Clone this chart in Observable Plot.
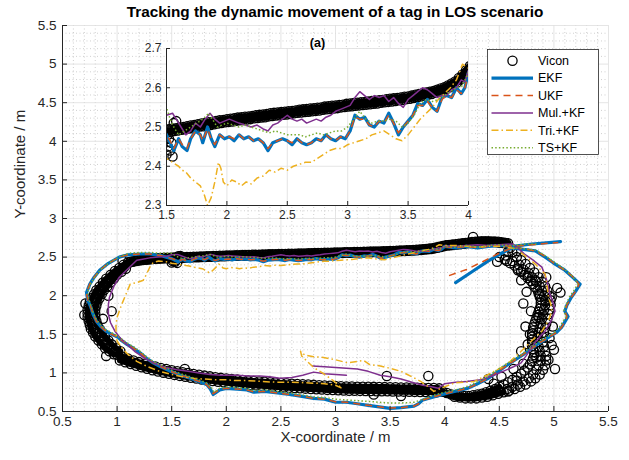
<!DOCTYPE html>
<html><head><meta charset="utf-8">
<script src="https://cdn.jsdelivr.net/npm/d3@7"></script>
<script src="https://cdn.jsdelivr.net/npm/@observablehq/plot@0.6"></script>
<style>
body{margin:0;background:#fff;font-family:"Liberation Sans",Arial,Helvetica,sans-serif;}
#wrap{position:relative;width:629px;height:460px;overflow:hidden;background:#fff;}
#wrap svg{position:absolute;}
#title{position:absolute;left:35px;width:600px;top:3px;text-align:center;font-weight:bold;font-size:15.3px;color:#000;}
</style></head><body>
<div id="wrap"><div id="title">Tracking the dynamic movement of a tag in LOS scenario</div></div>
<script>
// ---------------- data ----------------
const title = "Tracking the dynamic movement of a tag in LOS scenario";
const insetTitle = "(a)";
const xLabel = "X-coordinate / m";
const yLabel = "Y-coordinate / m";
const xTicks = [0.5,1,1.5,2,2.5,3,3.5,4,4.5,5,5.5];
const yTicks = [0.5,1,1.5,2,2.5,3,3.5,4,4.5,5,5.5];
const insetXTicks = [1.5,2,2.5,3,3.5,4];
const insetYTicks = [2.3,2.4,2.5,2.6,2.7];
const seriesNames = ["Vicon","EKF","UKF","Mul.+KF","Tri.+KF","TS+KF"];

const viconTopA = [[1.10,2.433],[1.13,2.443],[1.16,2.451],[1.19,2.460],[1.22,2.466],[1.25,2.471],[1.28,2.475],[1.31,2.479],[1.34,2.482],[1.37,2.485],[1.40,2.488],[1.43,2.490],[1.46,2.491],[1.49,2.493],[1.52,2.494],[1.55,2.496],[1.58,2.497],[1.61,2.499],[1.64,2.500],[1.67,2.502],[1.70,2.504],[1.73,2.505],[1.76,2.507],[1.79,2.509],[1.82,2.510],[1.85,2.512],[1.88,2.513],[1.91,2.515],[1.94,2.517],[1.97,2.518],[2.00,2.520],[2.03,2.521],[2.06,2.522],[2.09,2.524],[2.12,2.525],[2.15,2.526],[2.18,2.527],[2.21,2.528],[2.24,2.530],[2.27,2.531],[2.30,2.532],[2.33,2.533],[2.36,2.535],[2.39,2.536],[2.42,2.537],[2.45,2.538],[2.48,2.539],[2.51,2.540],[2.54,2.541],[2.57,2.542],[2.60,2.544],[2.63,2.545],[2.66,2.546],[2.69,2.547],[2.72,2.548],[2.75,2.549],[2.78,2.550],[2.81,2.552],[2.84,2.553],[2.87,2.554],[2.90,2.555],[2.93,2.556],[2.96,2.557],[2.99,2.559],[3.02,2.560],[3.05,2.561],[3.08,2.562],[3.11,2.563],[3.14,2.564],[3.17,2.565],[3.20,2.566],[3.23,2.567],[3.26,2.568],[3.29,2.569],[3.32,2.571],[3.35,2.572],[3.38,2.573],[3.41,2.574],[3.44,2.575],[3.47,2.577],[3.50,2.578],[3.53,2.580],[3.56,2.582],[3.59,2.584],[3.62,2.586],[3.65,2.588],[3.68,2.590],[3.71,2.592],[3.74,2.595],[3.77,2.598],[3.80,2.601],[3.83,2.606],[3.86,2.611],[3.89,2.616],[3.92,2.625],[3.95,2.634],[3.98,2.645],[4.01,2.655],[4.04,2.658],[4.07,2.662],[4.10,2.668],[4.13,2.673],[4.16,2.678],[4.19,2.684],[4.22,2.690],[4.25,2.695],[4.28,2.700],[4.31,2.703],[4.34,2.704],[4.37,2.705],[4.40,2.704],[4.43,2.703],[4.46,2.701],[4.49,2.698],[4.52,2.693],[4.55,2.687],[4.58,2.680]];
const viconTopB = [[1.115,2.431],[1.145,2.440],[1.175,2.449],[1.205,2.456],[1.235,2.462],[1.265,2.466],[1.295,2.470],[1.325,2.474],[1.355,2.477],[1.385,2.480],[1.415,2.482],[1.445,2.484],[1.475,2.485],[1.505,2.487],[1.535,2.488],[1.565,2.490],[1.595,2.491],[1.625,2.493],[1.655,2.494],[1.685,2.496],[1.715,2.497],[1.745,2.499],[1.775,2.501],[1.805,2.502],[1.835,2.504],[1.865,2.505],[1.895,2.507],[1.925,2.509],[1.955,2.510],[1.985,2.512],[2.015,2.513],[2.045,2.514],[2.075,2.516],[2.105,2.517],[2.135,2.518],[2.165,2.519],[2.195,2.520],[2.225,2.522],[2.255,2.523],[2.285,2.524],[2.315,2.525],[2.345,2.527],[2.375,2.528],[2.405,2.529],[2.435,2.530],[2.465,2.531],[2.495,2.532],[2.525,2.533],[2.555,2.535],[2.585,2.536],[2.615,2.537],[2.645,2.538],[2.675,2.539],[2.705,2.540],[2.735,2.541],[2.765,2.542],[2.795,2.544],[2.825,2.545],[2.855,2.546],[2.885,2.547],[2.915,2.548],[2.945,2.550],[2.975,2.551],[3.005,2.552],[3.035,2.553],[3.065,2.554],[3.095,2.555],[3.125,2.556],[3.155,2.557],[3.185,2.558],[3.215,2.559],[3.245,2.560],[3.275,2.562],[3.305,2.563],[3.335,2.564],[3.365,2.565],[3.395,2.566],[3.425,2.568],[3.455,2.569],[3.485,2.571],[3.515,2.572],[3.545,2.574],[3.575,2.576],[3.605,2.578],[3.635,2.580],[3.665,2.582],[3.695,2.584],[3.725,2.587],[3.755,2.590],[3.785,2.593],[3.815,2.597],[3.845,2.601],[3.875,2.606],[3.905,2.613],[3.935,2.621],[3.965,2.631],[3.995,2.642],[4.025,2.650],[4.055,2.654],[4.085,2.658],[4.115,2.663],[4.145,2.668],[4.175,2.673],[4.205,2.679],[4.235,2.684],[4.265,2.689],[4.295,2.693],[4.325,2.696],[4.355,2.697],[4.385,2.697],[4.415,2.696],[4.445,2.694],[4.475,2.691],[4.505,2.687],[4.535,2.682],[4.565,2.676]];
const viconExtra = [[1.50,2.43],[1.51,2.45],[1.52,2.47],[1.53,2.44],[1.54,2.46],[1.56,2.51],[1.58,2.515],[1.51,2.48],[1.55,2.425],[4.26,2.76],[4.50,2.50],[4.48,2.44],[4.67,2.33],[4.76,2.26],[4.83,2.20],[4.87,2.02],[5.06,2.04],[5.03,2.10],[4.79,1.80],[4.86,1.72],[4.76,1.37],[4.95,1.17],[4.70,1.28],[4.58,0.76],[4.99,1.60],[5.00,1.30],[4.74,1.60],[4.72,1.90],[4.96,1.45],[4.63,1.05],[4.40,0.92],[3.47,0.96],[3.85,0.96],[3.60,0.70],[3.35,0.72],[2.20,0.83],[1.62,1.05],[0.90,1.22],[0.87,1.70],[0.95,1.80],[0.70,1.75],[0.71,1.90],[1.05,2.45],[0.92,2.00],[4.62,2.56],[4.66,2.58],[4.70,2.20],[4.93,2.24],[4.98,1.98],[4.78,1.50],[4.84,1.20],[4.72,1.12],[5.01,1.05],[4.66,0.90],[4.52,0.95],[4.45,0.86],[4.98,1.36],[4.75,2.05]];
const viconRightA = [[4.60,2.62],[4.58,2.57],[4.56,2.52],[4.55,2.47],[4.57,2.45],[4.60,2.42],[4.64,2.39],[4.67,2.35],[4.70,2.31],[4.73,2.27],[4.76,2.23],[4.79,2.19],[4.81,2.15],[4.83,2.11],[4.85,2.07],[4.86,2.03],[4.87,1.99],[4.88,1.95],[4.88,1.91],[4.88,1.87],[4.87,1.83],[4.86,1.79],[4.85,1.75],[4.84,1.71],[4.83,1.67],[4.82,1.63],[4.81,1.59],[4.81,1.55],[4.80,1.51],[4.80,1.47],[4.80,1.43],[4.80,1.39],[4.80,1.35],[4.81,1.31],[4.82,1.27],[4.82,1.23],[4.81,1.19],[4.80,1.15],[4.78,1.11],[4.76,1.07],[4.73,1.03],[4.70,0.99],[4.66,0.95],[4.62,0.91],[4.58,0.88],[4.54,0.85]];
const viconCornerA = [[4.50,0.82],[4.46,0.79],[4.42,0.77],[4.38,0.75],[4.34,0.73],[4.30,0.72],[4.26,0.71],[4.22,0.70],[4.18,0.70],[4.14,0.70],[4.10,0.71],[4.06,0.72],[4.02,0.74],[3.98,0.76],[3.94,0.77]];
const viconRightB = [[4.66,2.50],[4.70,2.46],[4.74,2.41],[4.78,2.36],[4.82,2.30],[4.86,2.24],[4.89,2.18],[4.92,2.12],[4.94,2.06],[4.96,2.00],[4.97,1.94],[4.97,1.88],[4.96,1.82],[4.95,1.76],[4.94,1.70],[4.93,1.64],[4.92,1.58],[4.91,1.52],[4.90,1.46],[4.90,1.40],[4.91,1.34],[4.92,1.28],[4.93,1.22],[4.93,1.16],[4.92,1.10],[4.90,1.04],[4.87,0.98],[4.83,0.93],[4.79,0.89],[4.74,0.85],[4.69,0.82],[4.64,0.79],[4.59,0.77]];
const viconCornerB = [[4.54,0.75],[4.49,0.73],[4.44,0.71],[4.39,0.69],[4.34,0.68],[4.29,0.67],[4.24,0.67],[4.19,0.67],[4.14,0.68],[4.09,0.69]];
const viconRightC = [[4.62,2.45],[4.68,2.40],[4.72,2.34],[4.77,2.29],[4.80,2.24],[4.84,2.18],[4.87,2.12],[4.89,2.06],[4.91,2.00],[4.92,1.94],[4.92,1.88],[4.91,1.82],[4.90,1.76],[4.89,1.70],[4.88,1.64],[4.87,1.58],[4.86,1.52],[4.85,1.46],[4.85,1.40],[4.86,1.34],[4.87,1.28],[4.88,1.22],[4.88,1.16],[4.86,1.10],[4.84,1.04],[4.81,0.98],[4.77,0.93],[4.72,0.89],[4.67,0.85],[4.62,0.82],[4.57,0.79]];
const viconBottomA = [[3.95,0.80],[3.90,0.805],[3.85,0.806],[3.80,0.807],[3.75,0.809],[3.70,0.81],[3.65,0.811],[3.60,0.812],[3.55,0.814],[3.50,0.815],[3.45,0.816],[3.40,0.817],[3.35,0.819],[3.30,0.82],[3.25,0.821],[3.20,0.822],[3.15,0.824],[3.10,0.825],[3.05,0.828],[3.00,0.83],[2.95,0.834],[2.90,0.837],[2.85,0.841],[2.80,0.845],[2.75,0.849],[2.70,0.853],[2.65,0.857],[2.60,0.861],[2.55,0.865],[2.50,0.87],[2.45,0.875],[2.40,0.88],[2.35,0.885],[2.30,0.89],[2.25,0.896],[2.20,0.902],[2.15,0.909],[2.10,0.915],[2.05,0.922],[2.00,0.928],[1.95,0.936],[1.90,0.945],[1.85,0.955],[1.80,0.965],[1.75,0.976],[1.70,0.987],[1.65,0.998],[1.60,1.01],[1.55,1.022],[1.50,1.035],[1.45,1.05],[1.40,1.065],[1.35,1.082],[1.30,1.10],[1.25,1.12],[1.20,1.14],[1.15,1.162],[1.10,1.185],[1.05,1.21],[1.00,1.235]];
const viconBottomB = [[3.925,0.75],[3.875,0.751],[3.825,0.752],[3.775,0.753],[3.725,0.754],[3.675,0.756],[3.625,0.757],[3.575,0.758],[3.525,0.759],[3.475,0.761],[3.425,0.762],[3.375,0.763],[3.325,0.764],[3.275,0.766],[3.225,0.767],[3.175,0.768],[3.125,0.769],[3.075,0.772],[3.025,0.774],[2.975,0.777],[2.925,0.78],[2.875,0.784],[2.825,0.788],[2.775,0.792],[2.725,0.796],[2.675,0.80],[2.625,0.804],[2.575,0.808],[2.525,0.812],[2.475,0.817],[2.425,0.822],[2.375,0.827],[2.325,0.832],[2.275,0.838],[2.225,0.844],[2.175,0.85],[2.125,0.856],[2.075,0.863],[2.025,0.87],[1.975,0.878],[1.925,0.886],[1.875,0.895],[1.825,0.905],[1.775,0.915],[1.725,0.926],[1.675,0.937],[1.625,0.949],[1.575,0.961],[1.525,0.974],[1.475,0.988],[1.425,1.003],[1.375,1.018],[1.325,1.035],[1.275,1.053],[1.225,1.072],[1.175,1.093],[1.125,1.115],[1.075,1.138],[1.025,1.162]];
const viconLeftA = [[0.97,1.24],[0.93,1.28],[0.89,1.32],[0.86,1.37],[0.83,1.42],[0.80,1.47],[0.78,1.52],[0.76,1.57],[0.75,1.62],[0.74,1.67],[0.73,1.72],[0.73,1.77],[0.73,1.82],[0.74,1.87],[0.75,1.92],[0.77,1.97],[0.79,2.02],[0.81,2.07],[0.84,2.12],[0.87,2.17],[0.90,2.22],[0.94,2.27],[0.98,2.32],[1.02,2.36],[1.06,2.40]];
const viconLeftB = [[1.03,1.28],[0.99,1.32],[0.95,1.37],[0.92,1.42],[0.89,1.47],[0.86,1.52],[0.84,1.57],[0.82,1.62],[0.81,1.67],[0.80,1.72],[0.80,1.77],[0.80,1.82],[0.81,1.87],[0.82,1.92],[0.84,1.97],[0.86,2.02],[0.88,2.07],[0.91,2.12],[0.94,2.17],[0.97,2.22],[1.00,2.27],[1.04,2.31],[1.08,2.35]];

const ekf = [[4.10,2.17],[4.25,2.31],[4.40,2.45],[4.52,2.55],[4.62,2.62],[4.72,2.60],[4.83,2.58],[4.92,2.50],[5.00,2.42],[5.10,2.33],[5.17,2.24],[5.24,2.15],[5.20,2.06],[5.16,1.98],[5.12,1.88],[5.10,1.80],[5.13,1.73],[5.10,1.66],[5.07,1.59],[5.02,1.52],[4.95,1.46],[4.86,1.38],[4.76,1.28],[4.68,1.20],[4.58,1.11],[4.50,1.03],[4.40,0.93],[4.30,0.86],[4.21,0.80],[4.12,0.77],[4.03,0.74],[3.90,0.69],[3.80,0.65],[3.76,0.60],[3.72,0.57],[3.60,0.55],[3.50,0.54],[3.40,0.56],[3.30,0.58],[3.20,0.60],[3.10,0.62],[3.00,0.62],[2.90,0.66],[2.80,0.67],[2.68,0.70],[2.58,0.72],[2.47,0.74],[2.35,0.76],[2.25,0.75],[2.19,0.78],[2.10,0.79],[2.00,0.80],[1.94,0.78],[1.88,0.72],[1.85,0.80],[1.82,0.85],[1.75,0.89],[1.67,0.93],[1.58,0.97],[1.49,1.02],[1.40,1.08],[1.33,1.13],[1.27,1.19],[1.21,1.26],[1.15,1.32],[1.09,1.37],[1.04,1.42],[1.01,1.46],[0.95,1.50],[0.90,1.54],[0.85,1.60],[0.81,1.67],[0.78,1.76],[0.76,1.85],[0.73,1.95],[0.72,2.04],[0.75,2.15],[0.79,2.24],[0.84,2.33],[0.92,2.42],[1.02,2.50],[1.10,2.53],[1.21,2.54],[1.30,2.54],[1.40,2.52],[1.45,2.50],[1.50,2.48],[1.53,2.46],[1.56,2.44],[1.60,2.47],[1.63,2.45],[1.67,2.44],[1.70,2.47],[1.74,2.49],[1.78,2.48],[1.80,2.46],[1.84,2.50],[1.87,2.47],[1.90,2.45],[1.94,2.48],[1.98,2.47],[2.02,2.475],[2.06,2.465],[2.10,2.48],[2.14,2.47],[2.18,2.475],[2.22,2.465],[2.26,2.47],[2.30,2.46],[2.34,2.44],[2.38,2.46],[2.42,2.465],[2.46,2.47],[2.50,2.465],[2.54,2.455],[2.58,2.47],[2.62,2.46],[2.66,2.455],[2.70,2.46],[2.74,2.47],[2.78,2.465],[2.82,2.48],[2.86,2.47],[2.90,2.465],[2.94,2.475],[2.98,2.47],[3.02,2.49],[3.06,2.53],[3.10,2.52],[3.14,2.525],[3.18,2.505],[3.22,2.50],[3.26,2.515],[3.30,2.51],[3.34,2.535],[3.38,2.51],[3.42,2.48],[3.46,2.50],[3.50,2.515],[3.54,2.53],[3.58,2.56],[3.62,2.555],[3.66,2.57],[3.70,2.55],[3.74,2.54],[3.78,2.575],[3.82,2.58],[3.86,2.575],[3.90,2.60],[3.94,2.585],[3.97,2.60],[4.00,2.64],[4.10,2.62],[4.20,2.64],[4.30,2.62],[4.40,2.64],[4.50,2.65],[4.62,2.64],[4.80,2.67],[5.06,2.70]];
const ukf = [[4.04,2.26],[4.20,2.34],[4.36,2.45],[4.50,2.55],[4.62,2.62],[4.72,2.61],[4.83,2.58],[4.92,2.51],[5.00,2.42],[5.10,2.33],[5.17,2.25],[5.23,2.15],[5.20,2.06],[5.16,1.98],[5.12,1.88],[5.10,1.80],[5.12,1.73],[5.10,1.66],[5.07,1.59],[5.02,1.52],[4.95,1.46],[4.86,1.38],[4.76,1.28],[4.68,1.20],[4.58,1.11],[4.50,1.03],[4.40,0.93],[4.30,0.86],[4.21,0.80],[4.12,0.77],[4.03,0.74],[3.90,0.69],[3.80,0.65],[3.76,0.60],[3.72,0.57],[3.60,0.55],[3.50,0.545],[3.40,0.56],[3.30,0.58],[3.20,0.60],[3.10,0.62],[3.00,0.625],[2.90,0.66],[2.80,0.67],[2.68,0.70],[2.58,0.72],[2.47,0.74],[2.35,0.76],[2.25,0.755],[2.19,0.78],[2.10,0.79],[2.00,0.80],[1.94,0.785],[1.88,0.73],[1.85,0.80],[1.82,0.85],[1.75,0.89],[1.67,0.93],[1.58,0.97],[1.49,1.02],[1.40,1.08],[1.33,1.13],[1.27,1.19],[1.21,1.26],[1.15,1.32],[1.09,1.37],[1.04,1.42],[1.01,1.46],[0.95,1.50],[0.90,1.54],[0.85,1.60],[0.81,1.67],[0.78,1.76],[0.76,1.85],[0.73,1.95],[0.72,2.04],[0.75,2.15],[0.79,2.24],[0.84,2.33],[0.92,2.42],[1.02,2.50],[1.10,2.53],[1.21,2.54],[1.30,2.54],[1.40,2.52],[1.45,2.50],[1.50,2.48],[1.53,2.465],[1.56,2.445],[1.60,2.47],[1.63,2.455],[1.67,2.445],[1.70,2.47],[1.74,2.49],[1.78,2.48],[1.80,2.465],[1.84,2.495],[1.87,2.47],[1.90,2.455],[1.94,2.48],[1.98,2.47],[2.02,2.475],[2.06,2.47],[2.10,2.48],[2.14,2.47],[2.18,2.475],[2.22,2.465],[2.26,2.47],[2.30,2.46],[2.34,2.445],[2.38,2.46],[2.42,2.465],[2.46,2.47],[2.50,2.465],[2.54,2.46],[2.58,2.47],[2.62,2.46],[2.66,2.455],[2.70,2.46],[2.74,2.47],[2.78,2.465],[2.82,2.48],[2.86,2.47],[2.90,2.465],[2.94,2.475],[2.98,2.47],[3.02,2.49],[3.06,2.525],[3.10,2.52],[3.14,2.52],[3.18,2.505],[3.22,2.50],[3.26,2.515],[3.30,2.51],[3.34,2.53],[3.38,2.51],[3.42,2.485],[3.46,2.50],[3.50,2.515],[3.54,2.53],[3.58,2.555],[3.62,2.555],[3.66,2.565],[3.70,2.55],[3.74,2.54],[3.78,2.57],[3.82,2.58],[3.86,2.575],[3.90,2.595],[3.94,2.585],[3.97,2.60],[4.00,2.635],[4.10,2.62],[4.20,2.64],[4.30,2.62],[4.40,2.64],[4.50,2.65],[4.62,2.64],[4.80,2.66],[5.04,2.69]];
const mul = [[2.79,1.09],[2.90,1.08],[3.00,1.07],[3.10,1.06],[3.20,1.05],[3.30,1.02],[3.41,0.97],[3.50,0.95],[3.60,0.92],[3.70,0.88],[3.80,0.84],[3.88,0.82],[3.94,0.80],[4.00,0.86],[4.10,0.88],[4.20,0.89],[4.33,0.91],[4.45,0.97],[4.55,1.03],[4.63,1.08],[4.70,1.13],[4.76,1.25],[4.82,1.38],[4.88,1.48],[4.92,1.54],[4.97,1.66],[5.01,1.80],[4.99,1.92],[4.96,2.03],[4.95,2.11],[4.93,2.22],[4.89,2.37],[4.82,2.45],[4.73,2.54],[4.67,2.62],[4.62,2.67],[4.50,2.66],[4.40,2.65],[4.30,2.66],[4.20,2.65],[4.10,2.64],[4.00,2.645],[3.97,2.615],[3.94,2.62],[3.90,2.60],[3.86,2.595],[3.82,2.58],[3.78,2.58],[3.74,2.575],[3.70,2.585],[3.66,2.595],[3.62,2.60],[3.58,2.59],[3.54,2.58],[3.50,2.57],[3.46,2.55],[3.42,2.56],[3.38,2.575],[3.34,2.565],[3.30,2.58],[3.26,2.575],[3.22,2.58],[3.18,2.57],[3.14,2.58],[3.10,2.59],[3.06,2.575],[3.02,2.555],[2.98,2.55],[2.94,2.545],[2.90,2.54],[2.86,2.53],[2.82,2.525],[2.78,2.515],[2.74,2.52],[2.70,2.515],[2.66,2.51],[2.62,2.52],[2.58,2.515],[2.54,2.52],[2.50,2.53],[2.46,2.52],[2.42,2.51],[2.38,2.505],[2.34,2.49],[2.30,2.495],[2.25,2.505],[2.20,2.50],[2.15,2.505],[2.10,2.51],[2.06,2.515],[2.02,2.52],[1.98,2.515],[1.94,2.51],[1.90,2.52],[1.86,2.535],[1.82,2.52],[1.78,2.50],[1.74,2.51],[1.70,2.49],[1.66,2.48],[1.62,2.50],[1.58,2.52],[1.55,2.535],[1.50,2.53],[1.45,2.51],[1.38,2.50],[1.30,2.49],[1.22,2.47],[1.18,2.46],[1.10,2.35],[1.05,2.28],[1.02,2.24],[0.97,2.12],[0.93,1.98],[0.92,1.88],[0.92,1.76],[0.94,1.65],[0.98,1.54],[1.03,1.45],[1.09,1.37],[1.16,1.28],[1.24,1.20],[1.35,1.12],[1.45,1.07],[1.55,1.04],[1.65,1.02],[1.75,1.00],[1.85,0.98],[1.95,0.97],[2.10,0.97],[2.20,0.96],[2.31,0.96],[2.40,0.95],[2.49,0.93],[2.60,0.94],[2.70,0.97],[2.80,1.01],[2.90,0.99],[3.00,0.98],[3.10,0.97]];
const tri = [[4.64,2.61],[4.50,2.64],[4.40,2.64],[4.30,2.63],[4.20,2.64],[4.10,2.65],[4.00,2.65],[3.95,2.66],[3.90,2.62],[3.85,2.60],[3.80,2.585],[3.75,2.57],[3.70,2.55],[3.65,2.535],[3.60,2.52],[3.55,2.50],[3.50,2.48],[3.45,2.465],[3.40,2.47],[3.35,2.48],[3.30,2.49],[3.25,2.485],[3.20,2.48],[3.15,2.47],[3.10,2.465],[3.05,2.46],[3.00,2.455],[2.95,2.445],[2.90,2.445],[2.85,2.44],[2.80,2.43],[2.75,2.42],[2.70,2.41],[2.65,2.41],[2.60,2.405],[2.55,2.40],[2.50,2.39],[2.45,2.395],[2.40,2.385],[2.35,2.39],[2.30,2.375],[2.25,2.37],[2.20,2.355],[2.16,2.36],[2.12,2.35],[2.08,2.36],[2.04,2.365],[2.00,2.35],[1.97,2.36],[1.95,2.395],[1.93,2.41],[1.90,2.36],[1.87,2.32],[1.84,2.30],[1.81,2.33],[1.78,2.35],[1.74,2.36],[1.70,2.37],[1.66,2.385],[1.63,2.39],[1.60,2.40],[1.55,2.41],[1.50,2.42],[1.45,2.44],[1.38,2.45],[1.33,2.43],[1.30,2.37],[1.27,2.28],[1.24,2.20],[1.18,2.17],[1.12,2.15],[1.09,2.05],[1.07,1.98],[1.04,1.88],[1.02,1.80],[1.00,1.72],[0.99,1.63],[0.99,1.52],[1.00,1.41],[1.04,1.33],[1.10,1.24],[1.18,1.15],[1.28,1.08],[1.39,1.02],[1.50,0.98],[1.60,0.95],[1.70,0.93],[1.80,0.92],[1.90,0.91],[2.00,0.91],[2.10,0.90],[2.20,0.90],[2.31,0.89],[2.45,0.88],[2.60,0.88],[2.76,0.87],[2.90,0.86],[3.00,0.84],[3.06,0.80],[2.98,0.90],[2.88,1.00],[2.80,1.07],[2.74,1.15],[2.69,1.22],[2.68,1.28],[2.72,1.23],[2.80,1.21],[2.89,1.20],[3.00,1.17],[3.11,1.13],[3.20,1.15],[3.26,1.16],[3.31,1.11],[3.41,1.09],[3.50,1.06],[3.60,1.02],[3.70,0.95],[3.78,0.89],[3.85,0.82],[3.90,0.76],[4.00,0.82],[4.09,0.87],[4.18,0.88],[4.27,0.89],[4.40,0.98],[4.52,1.07],[4.60,1.15],[4.70,1.28],[4.80,1.42],[4.89,1.54],[4.95,1.68],[4.98,1.80],[4.97,1.90],[4.95,1.98],[4.94,2.10],[4.92,2.28],[4.87,2.35],[4.83,2.41],[4.75,2.50],[4.68,2.58]];
const ts = [[4.62,2.62],[4.72,2.61],[4.84,2.59],[4.93,2.51],[5.01,2.43],[5.10,2.34],[5.17,2.25],[5.22,2.16],[5.18,2.06],[5.14,1.98],[5.11,1.88],[5.09,1.80],[5.11,1.73],[5.08,1.66],[5.05,1.59],[5.00,1.52],[4.93,1.46],[4.84,1.38],[4.75,1.29],[4.66,1.20],[4.57,1.12],[4.48,1.04],[4.39,0.95],[4.29,0.88],[4.20,0.82],[4.10,0.78],[4.00,0.75],[3.90,0.71],[3.80,0.66],[3.72,0.62],[3.60,0.61],[3.50,0.61],[3.40,0.62],[3.30,0.63],[3.20,0.64],[3.10,0.65],[3.00,0.66],[2.90,0.68],[2.80,0.69],[2.68,0.72],[2.58,0.74],[2.47,0.76],[2.35,0.78],[2.25,0.77],[2.19,0.80],[2.10,0.81],[2.00,0.82],[1.94,0.80],[1.89,0.75],[1.86,0.82],[1.82,0.87],[1.75,0.91],[1.67,0.95],[1.58,0.99],[1.49,1.04],[1.40,1.10],[1.33,1.15],[1.27,1.21],[1.21,1.28],[1.15,1.34],[1.09,1.39],[1.04,1.44],[1.00,1.48],[0.95,1.52],[0.90,1.56],[0.85,1.62],[0.81,1.69],[0.78,1.78],[0.76,1.87],[0.74,1.96],[0.73,2.05],[0.76,2.16],[0.80,2.25],[0.85,2.34],[0.93,2.43],[1.03,2.51],[1.11,2.55],[1.21,2.56],[1.30,2.56],[1.40,2.55],[1.45,2.55],[1.50,2.55],[1.53,2.52],[1.56,2.50],[1.60,2.48],[1.65,2.49],[1.70,2.50],[1.75,2.51],[1.80,2.52],[1.85,2.535],[1.88,2.52],[1.92,2.50],[1.96,2.505],[2.00,2.51],[2.05,2.505],[2.10,2.50],[2.15,2.505],[2.20,2.50],[2.25,2.495],[2.30,2.49],[2.35,2.485],[2.40,2.49],[2.45,2.485],[2.50,2.48],[2.55,2.48],[2.60,2.48],[2.65,2.475],[2.70,2.48],[2.75,2.485],[2.80,2.48],[2.85,2.485],[2.90,2.49],[2.95,2.49],[3.00,2.50],[3.05,2.52],[3.10,2.54],[3.15,2.52],[3.20,2.51],[3.25,2.515],[3.30,2.515],[3.35,2.52],[3.40,2.515],[3.45,2.50],[3.50,2.51],[3.55,2.53],[3.60,2.56],[3.65,2.57],[3.70,2.565],[3.75,2.57],[3.80,2.58],[3.85,2.59],[3.90,2.60],[3.95,2.605],[4.00,2.64],[4.10,2.63],[4.20,2.65],[4.30,2.63],[4.40,2.65],[4.50,2.66],[4.62,2.65],[4.75,2.67],[4.85,2.67]];

// ---------------- drawing ----------------
const vicon = [].concat(viconTopA, viconTopB, viconExtra, viconRightA, viconCornerA, viconRightB, viconCornerB, viconRightC, viconBottomA, viconBottomB, viconLeftA, viconLeftB);
// densely sampled stretches of the two recorded laps (overlapping markers)
const viconLap1 = [].concat(viconCornerA, viconBottomA, viconLeftA, viconTopA);
const viconLap2 = [].concat(viconCornerB, viconBottomB, viconLeftB, viconTopB);
const FONT = '"Liberation Sans", Arial, Helvetica, sans-serif';
const AX = "#262626";
const styles = [
  {name: seriesNames[1], data: ekf, stroke: "#0072BD", strokeWidth: 3.2, dash: null, cap: "round"},
  {name: seriesNames[2], data: ukf, stroke: "#D95319", strokeWidth: 1.5, dash: "7,5", cap: "butt"},
  {name: seriesNames[3], data: mul, stroke: "#7E2F8E", strokeWidth: 1.5, dash: null, cap: "round"},
  {name: seriesNames[4], data: tri, stroke: "#EDB120", strokeWidth: 1.5, dash: "7,3,1.5,3", cap: "butt"},
  {name: seriesNames[5], data: ts, stroke: "#77AC30", strokeWidth: 1.5, dash: "1.5,2.2", cap: "butt"}
];
const XY = {x: d => d[0], y: d => d[1]};
function seriesMarks(clip, trailW) {
  const m = [
    Plot.line(viconLap1, {...XY, stroke: "#000", strokeWidth: trailW, strokeLinejoin: "round", clip}),
    Plot.line(viconLap2, {...XY, stroke: "#000", strokeWidth: trailW, strokeLinejoin: "round", clip}),
    Plot.dot(vicon, {...XY, r: 4.6, stroke: "#000", strokeWidth: 1.3, fill: "none", clip})
  ];
  for (const s of styles) {
    m.push(Plot.line(s.data, {...XY, stroke: s.stroke, strokeWidth: s.strokeWidth, strokeDasharray: s.dash, strokeLinecap: s.cap, strokeLinejoin: "round", clip}));
  }
  return m;
}
const fmt = d => String(d);
const minor = d3.range(6, 55).map(i => i / 10).filter(v => Math.abs(v * 2 - Math.round(v * 2)) > 1e-6);

const W = 629, H = 460, mL = 62, mR = 21, mT = 25, mB = 49;
const pw = W - mL - mR, ph = H - mT - mB;
const main = Plot.plot({
  width: W, height: H, marginLeft: mL, marginRight: mR, marginTop: mT, marginBottom: mB,
  style: {fontFamily: FONT, fontSize: "13.5px", background: "transparent", overflow: "visible", color: AX},
  x: {domain: [0.5, 5.5], axis: null},
  y: {domain: [0.5, 5.5], axis: null},
  marks: [
    Plot.ruleX(minor, {x: d => d, stroke: "#b0b0b0", strokeWidth: 0.6, strokeDasharray: "1,2.5"}),
    Plot.ruleY(minor, {y: d => d, stroke: "#b0b0b0", strokeWidth: 0.6, strokeDasharray: "1,2.5"}),
    Plot.ruleX(xTicks, {x: d => d, stroke: "#dedede", strokeWidth: 0.8}),
    Plot.ruleY(yTicks, {y: d => d, stroke: "#dedede", strokeWidth: 0.8}),
    ...seriesMarks(false, 6),
    Plot.ruleX([0.5], {x: d => d, stroke: AX, strokeWidth: 1}),
    Plot.ruleY([0.5], {y: d => d, stroke: AX, strokeWidth: 1}),
    Plot.tickX(xTicks, {x: d => d, insetTop: ph - 5, stroke: AX}),
    Plot.tickY(yTicks, {y: d => d, insetRight: pw - 5, stroke: AX}),
    Plot.text(xTicks, {x: d => d, frameAnchor: "bottom", dy: 14, text: fmt, fill: AX}),
    Plot.text(yTicks, {y: d => d, frameAnchor: "left", dx: -6, textAnchor: "end", text: fmt, fill: AX}),
    Plot.text([xLabel], {frameAnchor: "bottom", dy: 30, text: d => d, fontSize: 15, fill: AX}),
    Plot.text([yLabel], {frameAnchor: "left", dx: -42, rotate: -90, text: d => d, fontSize: 15, fill: AX})
  ]
});
main.style.left = "0px"; main.style.top = "0px";
document.getElementById("wrap").appendChild(main);

// inset
const iW = 350, iH = 200, imL = 36, imR = 12, imT = 18, imB = 25;
const ipw = iW - imL - imR, iph = iH - imT - imB;
const inset = Plot.plot({
  width: iW, height: iH, marginLeft: imL, marginRight: imR, marginTop: imT, marginBottom: imB,
  style: {fontFamily: FONT, fontSize: "12px", background: "transparent", overflow: "visible", color: AX},
  x: {domain: [1.5, 4], axis: null},
  y: {domain: [2.3, 2.7], axis: null},
  marks: [
    Plot.frame({fill: "white", stroke: "none"}),
    Plot.ruleX(insetXTicks, {x: d => d, stroke: "#dedede", strokeWidth: 0.8}),
    Plot.ruleY(insetYTicks, {y: d => d, stroke: "#dedede", strokeWidth: 0.8}),
    ...seriesMarks(true, 7),
    Plot.ruleX([1.5], {x: d => d, stroke: AX, strokeWidth: 1}),
    Plot.ruleY([2.3], {y: d => d, stroke: AX, strokeWidth: 1}),
    Plot.tickX(insetXTicks, {x: d => d, insetTop: iph - 4, stroke: AX}),
    Plot.tickY(insetYTicks, {y: d => d, insetRight: ipw - 4, stroke: AX}),
    Plot.text(insetXTicks, {x: d => d, frameAnchor: "bottom", dy: 13, text: fmt, fill: AX}),
    Plot.text(insetYTicks, {y: d => d, frameAnchor: "left", dx: -5, textAnchor: "end", text: fmt, fill: AX}),
    Plot.text([insetTitle], {frameAnchor: "top", dy: -10, text: d => d, fontWeight: "bold", fontSize: 12.5, fill: "#000"})
  ]
});
inset.style.left = "130px"; inset.style.top = "30px";
document.getElementById("wrap").appendChild(inset);

// legend
const leg = d3.create("svg").attr("width", 113).attr("height", 107)
  .style("left", "487px").style("top", "49px").style("font-family", FONT).style("font-size", "12.5px");
leg.append("rect").attr("x", 0.5).attr("y", 0.5).attr("width", 111).attr("height", 105).attr("fill", "white").attr("stroke", AX).attr("stroke-width", 0.8);
const rowY = i => 11.7 + i * 17.4;
leg.append("circle").attr("cx", 25.5).attr("cy", rowY(0)).attr("r", 4.6).attr("fill", "none").attr("stroke", "#000").attr("stroke-width", 1.3);
leg.append("text").attr("x", 51).attr("y", rowY(0)).attr("dy", "0.35em").attr("fill", "#000").text(seriesNames[0]);
styles.forEach((s, i) => {
  const y = rowY(i + 1);
  leg.append("line").attr("x1", 4.5).attr("x2", 46).attr("y1", y).attr("y2", y)
    .attr("stroke", s.stroke).attr("stroke-width", s.strokeWidth).attr("stroke-dasharray", s.dash).attr("stroke-linecap", "butt");
  leg.append("text").attr("x", 51).attr("y", y).attr("dy", "0.35em").attr("fill", "#000").text(s.name);
});
document.getElementById("wrap").appendChild(leg.node());
</script>
</body></html>
